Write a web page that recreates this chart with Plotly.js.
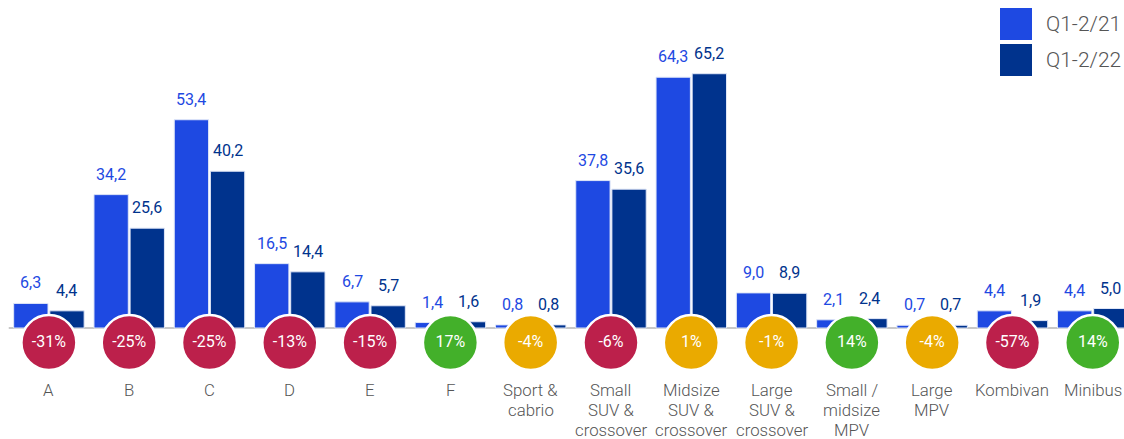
<!DOCTYPE html>
<html>
<head>
<meta charset="utf-8">
<script src="https://cdn.plot.ly/plotly-3.0.1.min.js"></script>
<style>html,body{margin:0;padding:0;background:#fff;}#chart{width:1124px;height:439px;}</style>
</head>
<body>
<div id="chart"></div>
<script>
const categories = ["A","B","C","D","E","F","Sport &<br>cabrio","Small<br>SUV &<br>crossover","Midsize<br>SUV &<br>crossover","Large<br>SUV &<br>crossover","Small /<br>midsize<br>MPV","Large<br>MPV","Kombivan","Minibus"];
const q21 = [6.3,34.2,53.4,16.5,6.7,1.4,0.8,37.8,64.3,9.0,2.1,0.7,4.4,4.4];
const q22 = [4.4,25.6,40.2,14.4,5.7,1.6,0.8,35.6,65.2,8.9,2.4,0.7,1.9,5.0];
const changePct = [-31,-25,-25,-13,-15,17,-4,-6,1,-1,14,-4,-57,14];
const seriesNames = ["Q1-2/21","Q1-2/22"];

const C_LIGHT = "#1E49E2", C_DARK = "#00338D";
const C_RED = "#BC204B", C_YEL = "#EAAA00", C_GRN = "#43B02A";
const FONT = "Roboto, sans-serif";
const PXU = 3.9;             // pixels per unit
const BASE_PX = 328;         // baseline pixel
const H = 439, W = 1124;
const yRange = [-(H - BASE_PX) / PXU, BASE_PX / PXU];
const xRange = [-0.609, 13.389];
const idx = categories.map((_, i) => i);
const fmt = v => v.toFixed(1).replace('.', ',');
const pxToY = px => -(px - BASE_PX) / PXU;
const cy = pxToY(342.5);
const LINE0_PX = 389.6, LINE_STEP = 20.3;
const off = 0.225;

const traces = [
  {type:'bar', x: idx, y: q21, name: seriesNames[0], marker:{color:C_LIGHT, line:{color:'#dfe6f7', width:1}}, hoverinfo:'skip'},
  {type:'bar', x: idx, y: q22, name: seriesNames[1], marker:{color:C_DARK, line:{color:'#dfe6f7', width:1}}, hoverinfo:'skip'},
  {type:'scatter', mode:'markers+text', x: idx, y: idx.map(() => cy),
   marker:{size:55, color: changePct.map(c => c > 5 ? C_GRN : (c < -5 ? C_RED : C_YEL)), line:{color:'#fff', width:2.5}},
   text: changePct.map(c => c + '%'), textposition:'middle center',
   textfont:{family:FONT, size:16, color:'#fff'}, cliponaxis:false, hoverinfo:'skip'}
];

const annotations = [];
idx.forEach(i => {
  annotations.push({x: i - off, y: q21[i], xref:'x', yref:'y', yanchor:'bottom', yshift:9, showarrow:false,
    text: fmt(q21[i]), font:{family:FONT, size:16, color:C_LIGHT}});
  annotations.push({x: i + off, y: q22[i], xref:'x', yref:'y', yanchor:'bottom', yshift:9, showarrow:false,
    text: fmt(q22[i]), font:{family:FONT, size:16, color:C_DARK}});
  categories[i].split('<br>').forEach((line, j) => {
    annotations.push({x: i, y: pxToY(LINE0_PX + j * LINE_STEP), xref:'x', yref:'y', yanchor:'middle',
      showarrow:false, borderpad:0, text: line, font:{family:FONT, size:16.8, weight:300, color:'#555'}});
  });
});
// legend text
[0,1].forEach(k => {
  annotations.push({x: 1044 / W, y: 1 - (24 + 36 * k) / H, xref:'paper', yref:'paper', xanchor:'left', yanchor:'middle',
    showarrow:false, text: seriesNames[k], font:{family:FONT, size:21, weight:300, color:'#555'}});
});

const shapes = [
  {type:'line', xref:'x', yref:'y', x0:-0.5, x1:13.6, y0:0, y1:0, line:{color:'#c8c8c8', width:2}, layer:'below'},
  {type:'rect', xref:'paper', yref:'paper', x0:1000/W, x1:1032/W, y0:1-40/H, y1:1-8/H, fillcolor:C_LIGHT, line:{width:0}},
  {type:'rect', xref:'paper', yref:'paper', x0:1000/W, x1:1032/W, y0:1-76/H, y1:1-44/H, fillcolor:C_DARK, line:{width:0}}
];

const layout = {
  width: W, height: H, autosize:false,
  margin:{l:0, r:0, t:0, b:0, pad:0},
  paper_bgcolor:'#fff', plot_bgcolor:'#fff',
  barmode:'group', bargap:0.1, bargroupgap:0.05,
  showlegend:false,
  xaxis:{range:xRange, visible:false, fixedrange:true},
  yaxis:{range:yRange, visible:false, fixedrange:true},
  annotations, shapes
};
Plotly.newPlot('chart', traces, layout, {displayModeBar:false, staticPlot:true});
</script>
</body>
</html>
